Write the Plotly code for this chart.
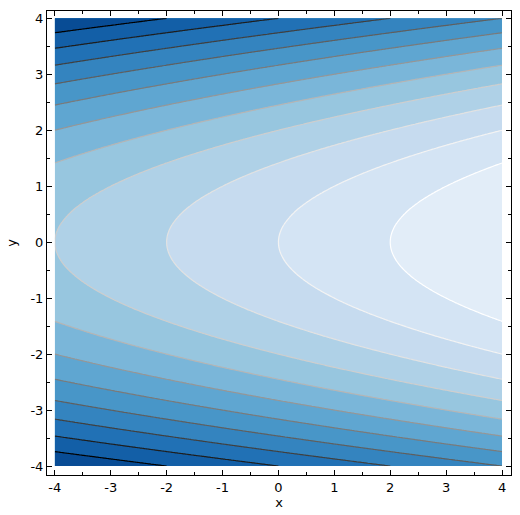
import numpy as np
import plotly.graph_objects as go

# grid of the plotted function f(x, y) = y^2 - x
x_vals = np.linspace(-4, 4, 201)
y_vals = np.linspace(-4, 4, 201)
X, Y = np.meshgrid(x_vals, y_vals)
Z = Y**2 - X

# colour scale span and contour levels
color_min, color_max = -6, 22
level_start, level_end, level_step = -4, 20, 2
tick_vals = [-4, -3, -2, -1, 0, 1, 2, 3, 4]
tick_text = ["-4", "-3", "-2", "-1", "0", "1", "2", "3", "4"]

fig = go.Figure()
fig.add_trace(go.Contour(
    x=x_vals, y=y_vals, z=Z,
    colorscale="Blues", zmin=color_min, zmax=color_max,
    contours=dict(start=color_min, end=color_max, size=level_step, coloring="fill"),
    line=dict(width=0),
    showscale=False,
))
fig.add_trace(go.Contour(
    x=x_vals, y=y_vals, z=Z,
    colorscale="Greys", zmin=level_start, zmax=level_end,
    contours=dict(start=level_start + level_step, end=level_end - level_step,
                  size=level_step, coloring="lines"),
    line=dict(width=1.2),
    showscale=False,
))

axis_common = dict(
    tickvals=tick_vals, ticktext=tick_text,
    ticks="inside", ticklen=5, tickwidth=1, tickcolor="black",
    showline=True, linecolor="black", linewidth=1, mirror="ticks",
    showgrid=False, zeroline=False, automargin=False,
    minor=dict(ticks="inside", ticklen=3, dtick=0.5, tickcolor="black", showgrid=False),
    tickfont=dict(size=13, color="black"),
)
fig.update_xaxes(**axis_common, range=[-4.14, 4.16],
                 title=dict(text="x", font=dict(size=13, color="black"), standoff=2))
fig.update_yaxes(**axis_common, range=[-4.16, 4.13],
                 title=dict(text="y", font=dict(size=13, color="black"), standoff=10))
fig.update_layout(
    width=520, height=515,
    margin=dict(l=47, r=9, t=11, b=40),
    plot_bgcolor="white", paper_bgcolor="white",
    font=dict(family="DejaVu Sans", size=13, color="black"),
)
fig.write_html(
    "out.html",
    config={"displayModeBar": False},
    post_script="document.body.style.margin='0';document.body.style.overflow='hidden';",
)
